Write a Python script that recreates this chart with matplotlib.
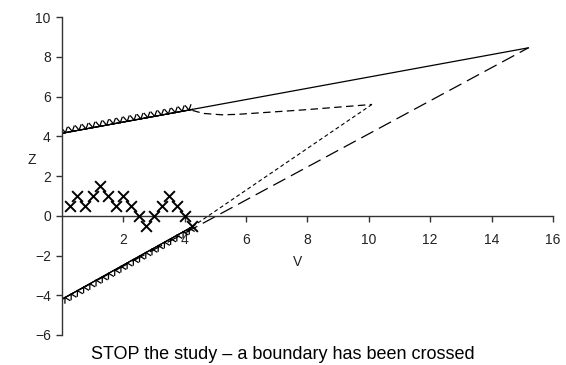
import matplotlib
matplotlib.use("Agg")
import matplotlib.pyplot as plt
import matplotlib.patheffects as pe
import numpy as np

plt.rcParams['font.family'] = ['Liberation Sans', 'DejaVu Sans']

# observed path (V, Z)
obs_v = [0.25, 0.5, 0.75, 1.0, 1.25, 1.5, 1.75, 2.0, 2.25, 2.5, 2.75, 3.0,
         3.25, 3.5, 3.75, 4.0, 4.25]
obs_z = [0.5, 1.0, 0.5, 1.0, 1.5, 1.0, 0.5, 1.0, 0.5, 0.0, -0.5, 0.0,
         0.5, 1.0, 0.5, 0.0, -0.5]

# boundaries
upper_v = [0.0, 15.2]
upper_z = [4.15, 8.45]
lower_v = [0.0, 15.2]
lower_z = [-4.2, 8.45]

# boundary already covered (hatched)
upper_done_v = [0.0, 4.25]
upper_done_z = [4.15, 5.35]
lower_done_v = [0.0, 4.25]
lower_done_z = [-4.2, -0.55]

# revised upper / lower boundaries
rev_up_v = [4.25, 4.6, 5.2, 5.7, 7.9, 10.1]
rev_up_z = [5.3, 5.15, 5.08, 5.1, 5.33, 5.6]
rev_lo_v = [10.1, 4.25]
rev_lo_z = [5.6, -0.55]

xticks = [2, 4, 6, 8, 10, 12, 14, 16]
yticks = [-6, -4, -2, 0, 2, 4, 6, 8, 10]

fig = plt.figure(figsize=(5.66, 3.65), dpi=100)
ax = fig.add_axes([0.1095, 0.0822, 0.8675, 0.8712])

ax.plot(upper_v, upper_z, color='k', lw=0.9)
ax.plot(lower_v, lower_z, color='k', lw=0.9, dashes=(11, 5))
ax.plot(rev_up_v, rev_up_z, color='k', lw=0.9, dashes=(6, 3.5))
ax.plot(rev_lo_v, rev_lo_z, color='k', lw=0.8, dashes=(3.5, 2.5))

# hatched (zigzag) parts of the boundaries already passed
zig = [pe.withTickedStroke(angle=60, spacing=5, length=0.8, linewidth=0.9),
       pe.withTickedStroke(angle=120, spacing=5, length=0.8, linewidth=0.9),
       pe.Normal()]
ax.plot(upper_done_v, upper_done_z, color='k', lw=0.8, path_effects=zig)
zig2 = [pe.withTickedStroke(angle=-60, spacing=5, length=0.8, linewidth=0.9),
        pe.withTickedStroke(angle=-120, spacing=5, length=0.8, linewidth=0.9),
        pe.Normal()]
ax.plot(lower_done_v, lower_done_z, color='k', lw=0.8, path_effects=zig2)

ax.scatter(obs_v, obs_z, marker='x', s=60, color='k', linewidths=1.4, zorder=5)

ax.set_xlim(0, 16)
ax.set_ylim(-6, 10)
ax.set_xticks(xticks)
ax.set_yticks(yticks)
ax.set_yticklabels([str(t).replace('-', '\u2212') for t in yticks])

ax.spines['top'].set_visible(False)
ax.spines['right'].set_visible(False)
ax.spines['bottom'].set_position(('data', 0))
for s in ['left', 'bottom']:
    ax.spines[s].set_color('#333333')
    ax.spines[s].set_linewidth(1.0)
ax.tick_params(direction='out', length=4.5, width=1.0, color='#333333',
               labelsize=10, labelcolor='#222222')
ax.tick_params(axis='x', pad=8)

fig.text(0.5265, 0.282, 'V', ha='center', va='center', fontsize=10, color='#222222')
fig.text(0.0565, 0.5616, 'Z', ha='center', va='center', fontsize=10, color='#222222')
fig.text(0.5, 0.03, 'STOP the study \u2013 a boundary has been crossed',
         ha='center', va='center', fontsize=13, color='k')

fig.savefig('out.png', dpi=100)
